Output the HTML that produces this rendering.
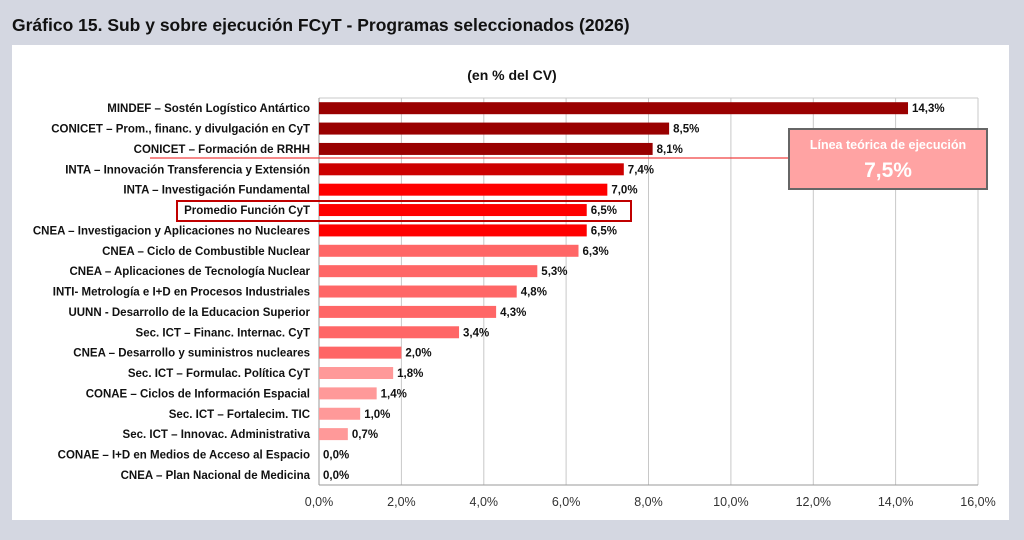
<!DOCTYPE html>
<html><head><meta charset="utf-8"><style>
body{margin:0;width:1024px;height:540px;background:#d4d7e1;position:relative;overflow:hidden;font-family:"Liberation Sans",Arial,sans-serif}
.t{position:absolute;left:12px;top:15px;font-family:"Liberation Sans",sans-serif;font-weight:bold;font-size:17.5px;color:#111}
.p{position:absolute;left:12px;top:45px;width:997px;height:475px;background:#fff}
</style></head><body>
<div class="t">Gráfico 15. Sub y sobre ejecución FCyT - Programas seleccionados (2026)</div>
<div class="p"></div>
<svg width="1024" height="540" style="position:absolute;left:0;top:0" font-family="Liberation Sans,Arial,sans-serif">
<text x="512" y="80" text-anchor="middle" font-size="14" font-weight="bold" fill="#111">(en % del CV)</text>
<g stroke="#c8c8c8" stroke-width="1">
<line x1="401.4" y1="98" x2="401.4" y2="485"/><line x1="483.8" y1="98" x2="483.8" y2="485"/><line x1="566.1" y1="98" x2="566.1" y2="485"/><line x1="648.5" y1="98" x2="648.5" y2="485"/><line x1="730.9" y1="98" x2="730.9" y2="485"/><line x1="813.3" y1="98" x2="813.3" y2="485"/><line x1="895.6" y1="98" x2="895.6" y2="485"/><line x1="978" y1="98" x2="978" y2="485"/>
<line x1="319" y1="98" x2="978" y2="98"/>
<line x1="319" y1="98" x2="319" y2="485" stroke="#999"/><line x1="319" y1="485" x2="978" y2="485" stroke="#999"/>
</g>
<g id="bars" font-size="11.5" font-weight="bold" fill="#111"></g>
<g font-size="12.5" fill="#333" text-anchor="middle">
<text x="319" y="506">0,0%</text><text x="401.4" y="506">2,0%</text><text x="483.8" y="506">4,0%</text><text x="566.1" y="506">6,0%</text><text x="648.5" y="506">8,0%</text><text x="730.9" y="506">10,0%</text><text x="813.3" y="506">12,0%</text><text x="895.6" y="506">14,0%</text><text x="978" y="506">16,0%</text>
</g>
<line x1="150" y1="158" x2="788" y2="158" stroke="#f04040" stroke-width="1.2"/>
<rect x="177" y="201" width="454" height="20" fill="none" stroke="#c00000" stroke-width="2"/>
<rect x="789" y="129" width="198" height="60" fill="#ffa3a3" stroke="#666" stroke-width="2"/>
<text x="888" y="149" text-anchor="middle" font-size="12.5" font-weight="bold" fill="#fff">Línea teórica de ejecución</text>
<text x="888" y="177" text-anchor="middle" font-size="21" font-weight="bold" fill="#fff">7,5%</text>
</svg>
<script>
var d=[["MINDEF – Sostén Logístico Antártico",14.3,"#990000"],["CONICET – Prom., financ. y divulgación en CyT",8.5,"#990000"],["CONICET – Formación de RRHH",8.1,"#990000"],["INTA – Innovación Transferencia y Extensión",7.4,"#cc0000"],["INTA – Investigación Fundamental",7.0,"#ff0000"],["Promedio Función CyT",6.5,"#ff0000"],["CNEA – Investigacion y Aplicaciones no Nucleares",6.5,"#ff0000"],["CNEA – Ciclo de Combustible Nuclear",6.3,"#ff6666"],["CNEA – Aplicaciones de Tecnología Nuclear",5.3,"#ff6666"],["INTI- Metrología e I+D en Procesos Industriales",4.8,"#ff6666"],["UUNN - Desarrollo de la Educacion Superior",4.3,"#ff6666"],["Sec. ICT – Financ. Internac. CyT",3.4,"#ff6666"],["CNEA – Desarrollo y suministros nucleares",2.0,"#ff6666"],["Sec. ICT – Formulac. Política CyT",1.8,"#ff9999"],["CONAE – Ciclos de Información Espacial",1.4,"#ff9999"],["Sec. ICT – Fortalecim. TIC",1.0,"#ff9999"],["Sec. ICT – Innovac. Administrativa",0.7,"#ff9999"],["CONAE – I+D en Medios de Acceso al Espacio",0.0,"#ff9999"],["CNEA – Plan Nacional de Medicina",0.0,"#ff9999"]];
var g=document.getElementById("bars"),h="",s=41.19;
d.forEach(function(r,i){var y=98+20.37*i+10.2;var w=r[1]*s;
h+='<rect x="319" y="'+(y-6)+'" width="'+w+'" height="12" fill="'+r[2]+'"/>';
h+='<text x="310" y="'+(y+4)+'" text-anchor="end">'+r[0]+'</text>';
h+='<text x="'+(319+w+4)+'" y="'+(y+4)+'">'+r[1].toFixed(1).replace(".",",")+'%</text>';});
g.innerHTML=h;
</script>
</body></html>
